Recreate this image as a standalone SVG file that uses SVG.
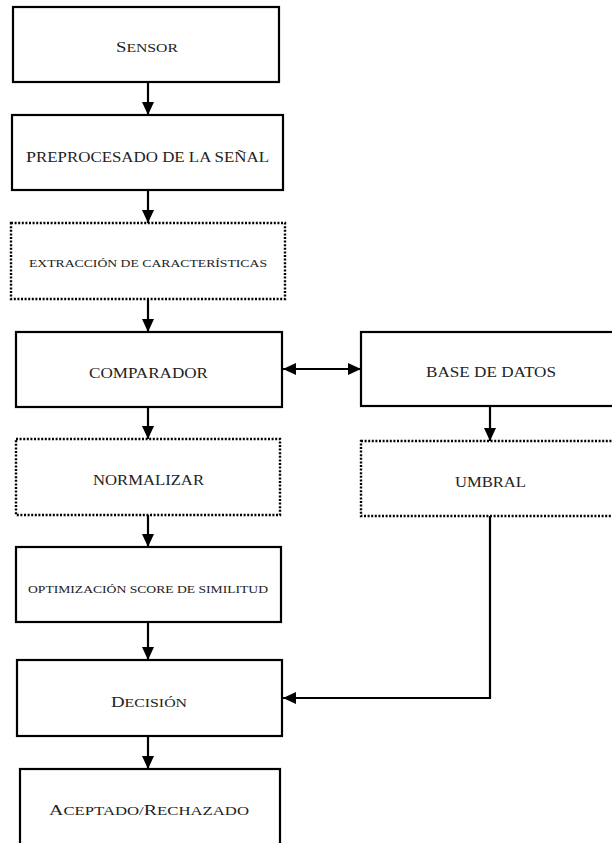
<svg xmlns="http://www.w3.org/2000/svg" width="612" height="843" viewBox="0 0 612 843">
<defs>
<marker id="ah" markerWidth="14" markerHeight="12" refX="13" refY="6" orient="auto-start-reverse" markerUnits="userSpaceOnUse">
<path d="M0,0 L13,6 L0,12 Z" fill="#000"/>
</marker>
</defs>
<style>
.box{fill:#fff;stroke:#000;stroke-width:2.2}
.dot{fill:#fff;stroke:#000;stroke-width:2.4;stroke-dasharray:2 1.6}
.lbl{font-family:"Liberation Serif","DejaVu Serif",serif;font-size:15px;fill:#222;text-anchor:start}
.sm{font-size:12.6px}
.conn{fill:none;stroke:#000;stroke-width:2.2}
</style>
<rect width="612" height="843" fill="#fff"/>
<g id="connectors">
<line class="conn" x1="148" y1="82" x2="148" y2="115" marker-end="url(#ah)"/>
<line class="conn" x1="148" y1="190" x2="148" y2="223" marker-end="url(#ah)"/>
<line class="conn" x1="148" y1="299" x2="148" y2="332" marker-end="url(#ah)"/>
<line class="conn" x1="148" y1="407" x2="148" y2="439" marker-end="url(#ah)"/>
<line class="conn" x1="148" y1="515" x2="148" y2="547" marker-end="url(#ah)"/>
<line class="conn" x1="148" y1="622" x2="148" y2="660" marker-end="url(#ah)"/>
<line class="conn" x1="148" y1="736" x2="148" y2="769" marker-end="url(#ah)"/>
<line class="conn" x1="283" y1="369" x2="361" y2="369" marker-start="url(#ah)" marker-end="url(#ah)"/>
<line class="conn" x1="490" y1="406" x2="490" y2="441" marker-end="url(#ah)"/>
<polyline class="conn" points="490,516 490,698 283,698" marker-end="url(#ah)"/>
</g>
<g id="sensor">
<rect class="box" x="13" y="7" width="266" height="75"/>
<text class="lbl" x="116" y="52" textLength="62" lengthAdjust="spacingAndGlyphs">S<tspan class="sm">ENSOR</tspan></text>
</g>
<g id="preprocesado">
<rect class="box" x="12" y="115" width="271" height="75"/>
<text class="lbl" x="26" y="162" textLength="243" lengthAdjust="spacingAndGlyphs">P<tspan style="font-size:14px">REPROCESADO DE LA SEÑAL</tspan></text>
</g>
<g id="extraccion">
<rect class="dot" x="11" y="223" width="274" height="76"/>
<text class="lbl" x="29" y="267" style="font-size:10.5px" textLength="238" lengthAdjust="spacingAndGlyphs">EXTRACCIÓN DE CARACTERÍSTICAS</text>
</g>
<g id="comparador">
<rect class="box" x="16" y="332" width="266" height="75"/>
<text class="lbl" x="89" y="378" textLength="119" lengthAdjust="spacingAndGlyphs">COMPARADOR</text>
</g>
<g id="basedatos">
<rect class="box" x="361" y="332" width="262" height="74"/>
<text class="lbl" x="426" y="377" style="font-size:14.5px" textLength="130" lengthAdjust="spacingAndGlyphs">BASE DE DATOS</text>
</g>
<g id="normalizar">
<rect class="dot" x="16" y="439" width="264" height="76"/>
<text class="lbl" x="93" y="485" textLength="111" lengthAdjust="spacingAndGlyphs">NORMALIZAR</text>
</g>
<g id="umbral">
<rect class="dot" x="361" y="441" width="262" height="75"/>
<text class="lbl" x="455" y="487" textLength="71" lengthAdjust="spacingAndGlyphs">UMBRAL</text>
</g>
<g id="optimizacion">
<rect class="box" x="16" y="547" width="265" height="75"/>
<text class="lbl" x="28" y="593" style="font-size:11px" textLength="240" lengthAdjust="spacingAndGlyphs">OPTIMIZACIÓN SCORE DE SIMILITUD</text>
</g>
<g id="decision">
<rect class="box" x="17" y="660" width="265" height="76"/>
<text class="lbl" x="111" y="707" textLength="76" lengthAdjust="spacingAndGlyphs">D<tspan class="sm">ECISIÓN</tspan></text>
</g>
<g id="aceptado">
<rect class="box" x="20" y="769" width="260" height="90"/>
<text class="lbl" x="49" y="815" textLength="200" lengthAdjust="spacingAndGlyphs">A<tspan class="sm">CEPTADO/</tspan>R<tspan class="sm">ECHAZADO</tspan></text>
</g>
</svg>
